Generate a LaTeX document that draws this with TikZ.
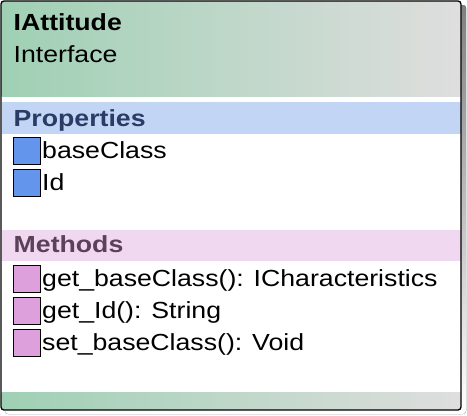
\documentclass[tikz,border=0pt]{standalone}
\usepackage{fontspec}
\setmainfont{Liberation Sans}
\newfontfamily\umlfont[FakeStretch=1.145]{Liberation Sans}
\usetikzlibrary{positioning}
\definecolor{headL}{HTML}{9FD0B4}
\definecolor{headR}{HTML}{DEDEDE}
\definecolor{propBand}{HTML}{C3D5F5}
\definecolor{propText}{HTML}{2A3C66}
\definecolor{propSq}{HTML}{6495ED}
\definecolor{methBand}{HTML}{F0D8F0}
\definecolor{methText}{HTML}{5C4258}
\definecolor{methSq}{HTML}{DDA0DD}
\definecolor{shade}{HTML}{CFCFCF}
\tikzset{
  txt/.style={anchor=base west, inner sep=0pt, font=\umlfont\fontsize{23.3}{28}\selectfont},
  boldtxt/.style={txt, font=\umlfont\bfseries\fontsize{23.3}{28}\selectfont},
  sq/.style={draw=black, line width=1.1pt, minimum width=27pt, minimum height=27pt, inner sep=0pt, anchor=north west},
  propsq/.style={sq, fill=propSq},
  methsq/.style={sq, fill=methSq},
}
\begin{document}
\begin{tikzpicture}[x=1pt,y=-1pt]
\useasboundingbox (0,0) rectangle (467,416);
% drop shadow
\fill[shade, rounded corners=3pt] (5,5) rectangle (466,414);
% card body
\fill[white, rounded corners=3pt] (1,1) rectangle (461,410);
% header and footer gradients
\shade[left color=headL, right color=headR] (1.5,1.5) rectangle (460.5,96);
\shade[left color=headL, right color=headR] (1.5,392) rectangle (460.5,409.5);
% compartment bands
\fill[propBand] (1.5,102) rectangle (460.5,134);
\fill[methBand] (1.5,230) rectangle (460.5,261);
% outline
\draw[black, line width=1.3pt, rounded corners=3pt] (1,1) rectangle (461,410);

\node[boldtxt] (title) at (13.5,30) {IAttitude};
\node[txt] (stereo) at (13.5,62) {Interface};

\node[boldtxt, text=propText] (props) at (13.5,126) {Properties};
\node[propsq] (p1) at (13,137) {};
\node[txt] (p1t) at (42,158) {baseClass};
\node[propsq] (p2) at (13,169) {};
\node[txt] (p2t) at (42,190.5) {Id};

\node[boldtxt, text=methText] (meths) at (13.5,252) {Methods};
\node[methsq] (m1) at (13,264.5) {};
\node[txt] (m1t) at (42,286) {get\_baseClass(): ICharacteristics};
\node[methsq] (m2) at (13,296.5) {};
\node[txt] (m2t) at (42,318) {get\_Id(): String};
\node[methsq] (m3) at (13,328.5) {};
\node[txt] (m3t) at (42,350) {set\_baseClass(): Void};
\end{tikzpicture}
\end{document}
